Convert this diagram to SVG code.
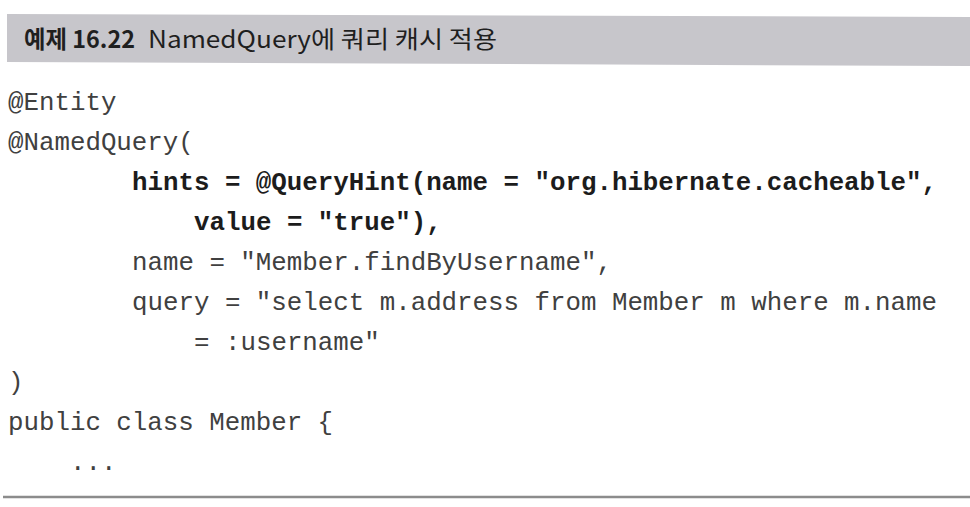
<svg xmlns="http://www.w3.org/2000/svg" width="970" height="507" viewBox="0 0 970 507">
  <style>
    .title { font-family: "Noto Sans CJK KR", "Noto Sans", sans-serif; font-size: 24px; fill: #1f1f1f; }
    .tb { font-weight: bold; }
    .code { font-family: "Liberation Mono", "DejaVu Sans Mono", monospace; font-size: 25.8px; fill: #404040; }
    .bold { font-weight: bold; fill: #1c1c1c; }
  </style>
  <rect x="0" y="0" width="970" height="507" fill="#ffffff"/>
  <g id="header">
    <polygon points="7,14 970,17 970,66 7,62" fill="#c7c6cb"/>
    <text class="title" x="24" y="48"><tspan class="tb" textLength="111" lengthAdjust="spacingAndGlyphs">예제 16.22</tspan></text>
    <text class="title" x="148" y="48" textLength="349" lengthAdjust="spacingAndGlyphs">NamedQuery에 쿼리 캐시 적용</text>
  </g>
  <g id="code">
    <text class="code" x="8" y="110">@Entity</text>
    <text class="code" x="8" y="150">@NamedQuery(</text>
    <text class="code bold" x="132" y="190">hints = @QueryHint(name = "org.hibernate.cacheable",</text>
    <text class="code bold" x="194" y="230">value = "true"),</text>
    <text class="code" x="132" y="270">name = "Member.findByUsername",</text>
    <text class="code" x="132" y="310">query = "select m.address from Member m where m.name</text>
    <text class="code" x="194" y="350">= :username"</text>
    <text class="code" x="8" y="390">)</text>
    <text class="code" x="8" y="430">public class Member {</text>
    <text class="code" x="70" y="470">...</text>
  </g>
  <g id="rule">
    <line x1="3" y1="497" x2="970" y2="497" stroke="#8c8c8c" stroke-width="2.5"/>
  </g>
</svg>
